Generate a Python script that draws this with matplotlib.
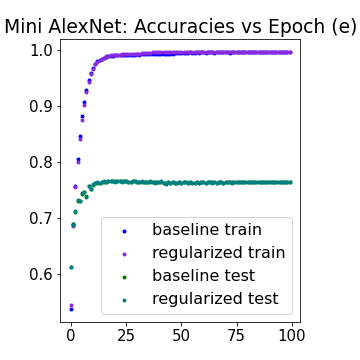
import matplotlib
matplotlib.use("Agg")
import matplotlib.pyplot as plt
import numpy as np

epochs = list(range(100))

baseline_train = [
    0.538, 0.690, 0.757, 0.806, 0.847, 0.882, 0.908, 0.929, 0.946, 0.959,
    0.969, 0.976, 0.980, 0.983, 0.985, 0.987, 0.988, 0.989, 0.990, 0.990,
    0.991, 0.991, 0.991, 0.992, 0.991, 0.992, 0.992, 0.992, 0.992, 0.992,
    0.993, 0.992, 0.993, 0.993, 0.993, 0.993, 0.993, 0.993, 0.993, 0.994,
    0.993, 0.994, 0.993, 0.994, 0.994, 0.993, 0.994, 0.996, 0.996, 0.996,
    0.996, 0.996, 0.996, 0.996, 0.997, 0.996, 0.996, 0.997, 0.996, 0.997,
    0.997, 0.996, 0.997, 0.997, 0.997, 0.996, 0.997, 0.997, 0.997, 0.997,
    0.997, 0.997, 0.996, 0.997, 0.997, 0.997, 0.997, 0.997, 0.997, 0.997,
    0.997, 0.997, 0.997, 0.997, 0.997, 0.997, 0.997, 0.997, 0.997, 0.997,
    0.997, 0.997, 0.997, 0.997, 0.997, 0.997, 0.997, 0.997, 0.997, 0.997,
]

regularized_train = [
    0.545, 0.686, 0.755, 0.800, 0.841, 0.876, 0.903, 0.925, 0.943, 0.957,
    0.967, 0.975, 0.979, 0.983, 0.985, 0.987, 0.989, 0.990, 0.991, 0.991,
    0.992, 0.992, 0.992, 0.993, 0.993, 0.993, 0.993, 0.994, 0.994, 0.994,
    0.994, 0.994, 0.995, 0.995, 0.995, 0.995, 0.996, 0.997, 0.997, 0.997,
    0.997, 0.997, 0.997, 0.997, 0.997, 0.997, 0.997, 0.997, 0.997, 0.997,
    0.997, 0.997, 0.997, 0.997, 0.997, 0.997, 0.997, 0.997, 0.997, 0.997,
    0.997, 0.997, 0.997, 0.997, 0.997, 0.997, 0.997, 0.997, 0.997, 0.997,
    0.997, 0.997, 0.997, 0.997, 0.997, 0.997, 0.997, 0.997, 0.997, 0.997,
    0.997, 0.997, 0.997, 0.997, 0.997, 0.997, 0.997, 0.997, 0.997, 0.997,
    0.997, 0.997, 0.997, 0.997, 0.997, 0.997, 0.997, 0.997, 0.997, 0.997,
]

baseline_test = [
    0.613, 0.689, 0.711, 0.731, 0.731, 0.744, 0.746, 0.739, 0.757, 0.753,
    0.760, 0.763, 0.763, 0.763, 0.764, 0.765, 0.765, 0.766, 0.766, 0.766,
    0.766, 0.766, 0.766, 0.766, 0.766, 0.766, 0.765, 0.765, 0.766, 0.766,
    0.765, 0.765, 0.765, 0.765, 0.765, 0.765, 0.765, 0.764, 0.764, 0.764,
    0.764, 0.765, 0.763, 0.762, 0.764, 0.763, 0.764, 0.763, 0.763, 0.764,
    0.763, 0.764, 0.764, 0.763, 0.764, 0.763, 0.763, 0.764, 0.763, 0.764,
    0.764, 0.763, 0.764, 0.764, 0.764, 0.764, 0.763, 0.764, 0.764, 0.763,
    0.764, 0.764, 0.764, 0.764, 0.764, 0.764, 0.764, 0.764, 0.764, 0.764,
    0.764, 0.764, 0.764, 0.764, 0.764, 0.764, 0.764, 0.764, 0.764, 0.764,
    0.764, 0.764, 0.764, 0.764, 0.764, 0.764, 0.764, 0.764, 0.764, 0.764,
]

regularized_test = [
    0.613, 0.688, 0.712, 0.733, 0.730, 0.745, 0.747, 0.738, 0.758, 0.752,
    0.761, 0.763, 0.764, 0.762, 0.765, 0.766, 0.764, 0.766, 0.767, 0.766,
    0.765, 0.767, 0.766, 0.765, 0.767, 0.766, 0.765, 0.764, 0.766, 0.767,
    0.765, 0.764, 0.766, 0.765, 0.764, 0.765, 0.766, 0.764, 0.763, 0.765,
    0.764, 0.766, 0.763, 0.761, 0.764, 0.763, 0.764, 0.762, 0.763, 0.764,
    0.763, 0.764, 0.765, 0.763, 0.764, 0.762, 0.763, 0.764, 0.763, 0.765,
    0.764, 0.763, 0.764, 0.765, 0.763, 0.764, 0.763, 0.765, 0.764, 0.763,
    0.764, 0.765, 0.764, 0.763, 0.764, 0.765, 0.764, 0.764, 0.765, 0.764,
    0.764, 0.765, 0.765, 0.765, 0.764, 0.765, 0.765, 0.765, 0.764, 0.765,
    0.765, 0.765, 0.765, 0.764, 0.765, 0.765, 0.765, 0.765, 0.765, 0.765,
]

series_names = ["baseline train", "regularized train", "baseline test", "regularized test"]
series_colors = ["#0000ff", "#8a2be2", "#008000", "#008080"]
title_text = "Mini AlexNet: Accuracies vs Epoch (e)"

fig = plt.figure(figsize=(5, 5), dpi=72)
ax = fig.add_axes([0.1667, 0.1064, 0.668, 0.785])

for vals, name, col in zip(
    [baseline_train, regularized_train, baseline_test, regularized_test],
    series_names, series_colors):
    ax.scatter(epochs, vals, s=16, color=col, label=name, linewidths=0)

ax.set_title(title_text, fontsize=18.8)
ax.tick_params(labelsize=15)
ax.set_xticks([0, 25, 50, 75, 100])
ax.set_yticks([0.6, 0.7, 0.8, 0.9, 1.0])
ax.legend(loc="lower right", fontsize=16)

fig.savefig("out.png", dpi=72)
